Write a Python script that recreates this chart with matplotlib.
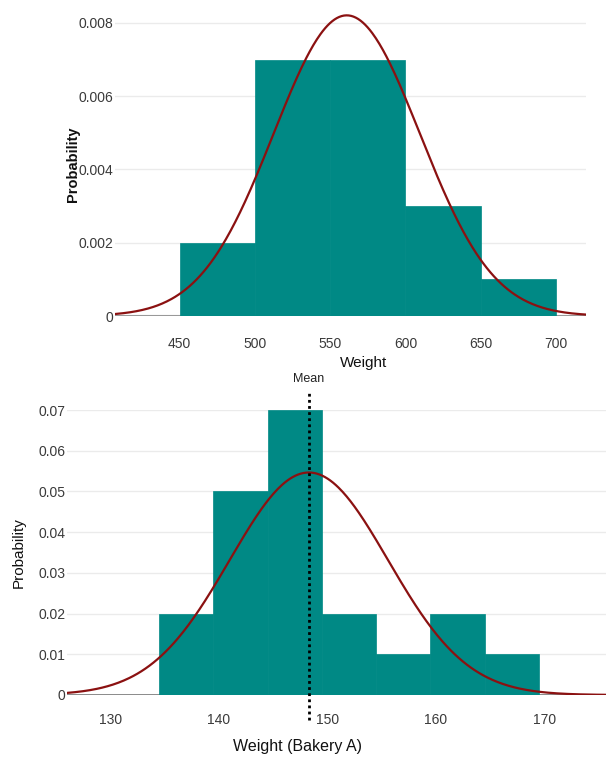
import numpy as np
import matplotlib
matplotlib.use("Agg")
import matplotlib.pyplot as plt

plt.rcParams['font.family'] = ['Liberation Sans', 'DejaVu Sans']

# --- Top chart data (histogram densities) ---
top_edges = [450, 500, 550, 600, 650, 700]
top_density = [0.002, 0.007, 0.007, 0.003, 0.001]
top_mu, top_sigma = 561.0, 48.6
top_xticks = [450, 500, 550, 600, 650, 700]
top_yticks = [0, 0.002, 0.004, 0.006, 0.008]
top_ylabels = ["0", "0.002", "0.004", "0.006", "0.008"]

# --- Bottom chart data ---
bot_edges = [134.5, 139.5, 144.5, 149.5, 154.5, 159.5, 164.5, 169.5]
bot_density = [0.02, 0.05, 0.07, 0.02, 0.01, 0.02, 0.01]
bot_mu, bot_sigma = 148.3, 7.3
bot_mean = 148.3
bot_xticks = [130, 140, 150, 160, 170]
bot_yticks = [0, 0.01, 0.02, 0.03, 0.04, 0.05, 0.06, 0.07]
bot_ylabels = ["0", "0.01", "0.02", "0.03", "0.04", "0.05", "0.06", "0.07"]

TEAL = "#008985"
RED = "#8B1111"
GRID = "#ebebeb"
TXT = "#3a3a3a"
TICKSIZE = 10

W, H = 606, 758
fig = plt.figure(figsize=(W / 100, H / 100), dpi=100)


def ax_rect(l, t, r, b):
    return [l / W, 1 - b / H, (r - l) / W, (b - t) / H]


def style(ax, yticks, ylabels, xticks, xpad):
    for s in ax.spines.values():
        s.set_visible(False)
    ax.set_yticks(yticks)
    ax.set_yticklabels(ylabels)
    ax.set_xticks(xticks)
    ax.tick_params(length=0, colors=TXT, labelsize=TICKSIZE)
    ax.tick_params(axis='y', pad=1)
    ax.tick_params(axis='x', pad=xpad)
    ax.yaxis.grid(True, color=GRID, linewidth=1)
    ax.set_axisbelow(True)


def normal_pdf(x, mu, sigma):
    return np.exp(-0.5 * ((x - mu) / sigma) ** 2) / (sigma * np.sqrt(2 * np.pi))


# Top chart
ax1 = fig.add_axes(ax_rect(115, 12, 586, 316))
lefts = np.array(top_edges[:-1])
widths = np.diff(top_edges)
ax1.bar(lefts, top_density, width=widths, align='edge', color=TEAL,
        edgecolor=TEAL, linewidth=0.5, zorder=2)
ax1.set_xlim(407, 720)
ax1.set_ylim(0, 0.0083)
ax1.axhline(0, color="#999999", linewidth=1.5, zorder=1)
xs = np.linspace(407, 720, 400)
ax1.plot(xs, normal_pdf(xs, top_mu, top_sigma), color=RED, linewidth=1.6, zorder=3)
style(ax1, top_yticks, top_ylabels, top_xticks, 15)
ax1.set_xlabel("Weight", fontsize=11, color="#111111")
ax1.xaxis.set_label_coords(0.527, -0.13)
ax1.set_ylabel("Probability", fontsize=10.5, fontweight='bold', color="#111111")
ax1.yaxis.set_label_coords(-0.075, 0.5)

# Bottom chart
ax2 = fig.add_axes(ax_rect(67, 410, 606, 695))
lefts = np.array(bot_edges[:-1])
widths = np.diff(bot_edges)
ax2.bar(lefts, bot_density, width=widths, align='edge', color=TEAL,
        edgecolor=TEAL, linewidth=0.5, zorder=2)
ax2.set_xlim(126, 175.7)
ax2.set_ylim(0, 0.07)
ax2.axhline(0, color="#777777", linewidth=1.2, zorder=1)
xs = np.linspace(126, 175.7, 400)
ax2.plot(xs, normal_pdf(xs, bot_mu, bot_sigma), color=RED, linewidth=1.6, zorder=3)
ax2.plot([bot_mean, bot_mean], [-0.0061, 0.0742], color="black", linewidth=2,
         linestyle=(0, (1, 1.2)), clip_on=False, zorder=4)
ax2.text(bot_mean, 0.0762, "Mean", ha='center', va='bottom', fontsize=9, color="#222222")
style(ax2, bot_yticks, bot_ylabels, bot_xticks, 13)
ax2.set_xlabel("Weight (Bakery A)", fontsize=11.5, color="#111111")
ax2.xaxis.set_label_coords(0.427, -0.155)
ax2.set_ylabel("Probability", fontsize=11, color="#111111")
ax2.yaxis.set_label_coords(-0.076, 0.5)

fig.savefig("out.png", dpi=100)
